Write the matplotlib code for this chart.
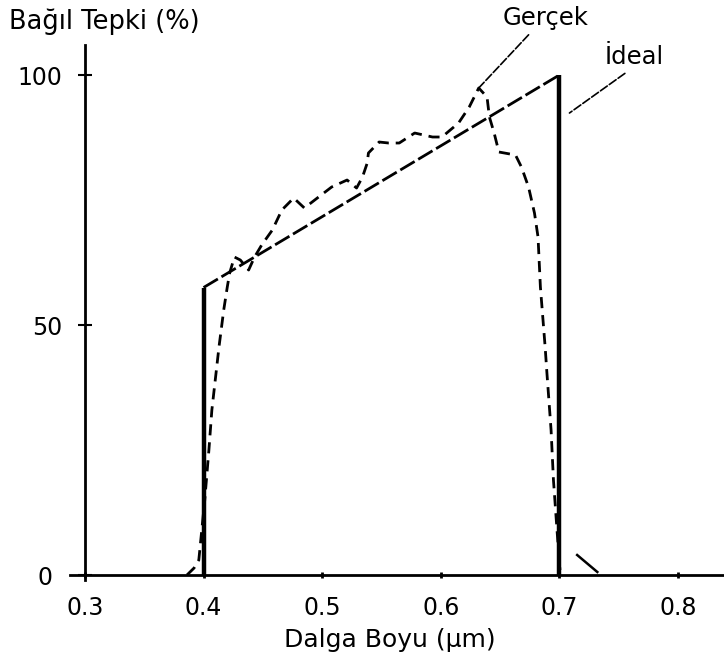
import matplotlib.pyplot as plt
from matplotlib.transforms import ScaledTranslation

plt.rcParams['font.family'] = ['DejaVu Sans']

# İdeal tepki: dikey kenarlar + eğik çizgi
ideal_x = [0.400, 0.400, 0.700, 0.700]
ideal_y = [0.0, 57.5, 100.0, 0.0]

# Gerçek tepki
gercek_x = [0.386, 0.392, 0.396, 0.401, 0.4045, 0.407, 0.413, 0.417, 0.420, 0.422,
            0.426, 0.431, 0.438, 0.443, 0.449, 0.458, 0.466, 0.476, 0.485, 0.497,
            0.508, 0.521, 0.529, 0.534, 0.538, 0.539, 0.548, 0.556, 0.565, 0.578,
            0.593, 0.601, 0.615, 0.624, 0.632, 0.639, 0.641, 0.645, 0.649, 0.663,
            0.668, 0.674, 0.679, 0.682, 0.684, 0.688, 0.6895, 0.693, 0.695, 0.698,
            0.7005]
gercek_y = [0.0, 1.4, 3.0, 15.0, 25.0, 33.0, 45.6, 53.0, 57.6, 60.4,
            63.6, 63.0, 61.0, 63.6, 66.0, 69.0, 73.0, 75.4, 73.4, 75.6,
            77.6, 79.0, 77.4, 79.6, 82.4, 84.4, 86.6, 86.4, 86.4, 88.4,
            87.6, 87.6, 90.4, 93.6, 97.4, 95.6, 91.6, 88.4, 84.6, 84.0,
            81.6, 77.6, 72.4, 67.6, 57.6, 45.6, 40.4, 29.0, 19.0, 9.0,
            1.0]
tail_x = [0.715, 0.732]
tail_y = [4.0, 0.6]

x_ticks = [0.3, 0.4, 0.5, 0.6, 0.7, 0.8]
x_labels = ['0.3', '0.4', '0.5', '0.6', '0.7', '0.8']
y_ticks = [0, 50, 100]
y_labels = ['0', '50', '100']

fig = plt.figure(figsize=(7.24, 6.6), dpi=100)
ax = fig.add_axes([0.0967, 0.1212, 0.9033, 0.8106])

# İdeal eğri
ax.plot(ideal_x[0:2], ideal_y[0:2], color='black', lw=3.2, solid_capstyle='butt', clip_on=False)
ax.plot(ideal_x[2:4], ideal_y[2:4], color='black', lw=3.2, solid_capstyle='butt', clip_on=False)
ax.plot(ideal_x[1:3], ideal_y[1:3], color='black', lw=2.0, linestyle=(0, (6, 1.5)), clip_on=False)

# Gerçek eğri
ax.plot(gercek_x, gercek_y, color='black', lw=2.0, linestyle=(0, (4, 2.5)), clip_on=False)
ax.plot(tail_x, tail_y, color='black', lw=1.8, clip_on=False)

# Etiketler
ax.annotate('Gerçek', xy=(gercek_x[34], gercek_y[34]), xytext=(0.6887, 111.4),
            ha='center', va='center', fontsize=17.5, annotation_clip=False,
            arrowprops=dict(arrowstyle='-', color='black', lw=1.2, linestyle=(0, (5, 1.5)),
                            relpos=(0.35, 0.0), shrinkA=2, shrinkB=0))
ax.annotate('İdeal', xy=(0.7085, 92.4), xytext=(0.7629, 103.6),
            ha='center', va='center', fontsize=17.5, annotation_clip=False,
            arrowprops=dict(arrowstyle='-', color='black', lw=1.2, linestyle=(0, (5, 1.5)),
                            relpos=(0.45, 0.0), shrinkA=2, shrinkB=0))

# Eksenler
ax.set_xlim(0.2874, 0.8388)
ax.set_ylim(-1, 106)
ax.spines['left'].set_position(('data', 0.3))
ax.spines['bottom'].set_position(('data', 0))
ax.spines['top'].set_visible(False)
ax.spines['right'].set_visible(False)
ax.spines['left'].set_linewidth(2.0)
ax.spines['bottom'].set_linewidth(2.0)

ax.set_xticks(x_ticks)
ax.set_xticklabels(x_labels, fontsize=17)
ax.set_yticks(y_ticks)
ax.set_yticklabels(y_labels, fontsize=17)
ax.tick_params(axis='x', direction='inout', length=4, width=2, pad=13)
ax.tick_params(axis='y', direction='inout', length=10, width=1.5, pad=11)
zero_lbl = ax.get_yticklabels()[0]
zero_lbl.set_transform(zero_lbl.get_transform() + ScaledTranslation(-0.1, 0, fig.dpi_scale_trans))

fig.text(0.012, 0.967, 'Bağıl Tepki (%)', fontsize=18.5, ha='left', va='center')
fig.text(0.539, 0.031, 'Dalga Boyu (µm)', fontsize=18, ha='center', va='center')

fig.savefig('out.png', dpi=100, facecolor='white')
